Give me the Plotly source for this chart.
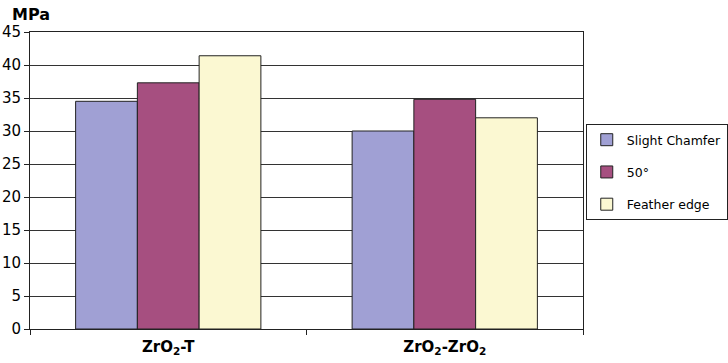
import plotly.graph_objects as go

# categories and series
categories = ["ZrO<sub>2</sub>-T", "ZrO<sub>2</sub>-ZrO<sub>2</sub>"]
slight_chamfer = [34.5, 30.0]
deg50 = [37.3, 34.8]
feather_edge = [41.4, 32.0]

series = [
    ("Slight Chamfer", slight_chamfer, "#A0A0D4"),
    ("50°", deg50, "#A64F80"),
    ("Feather edge", feather_edge, "#FBF8D2"),
]

fig = go.Figure()
for i, (name, vals, color) in enumerate(series):
    fig.add_trace(go.Bar(
        x=categories, y=vals, name=name,
        marker=dict(color=color, line=dict(color="#222", width=1)),
        legendgroup=f"g{i}",
    ))

fig.update_layout(
    width=728, height=363,
    margin=dict(l=30, r=145, t=32, b=34, autoexpand=False),
    paper_bgcolor="white", plot_bgcolor="white",
    font=dict(family="DejaVu Sans", size=14, color="black"),
    barmode="group", bargap=0.33, bargroupgap=0,
    showlegend=True,
    legend=dict(
        x=1.005, y=0.69, xanchor="left", yanchor="top",
        bordercolor="#222", borderwidth=1,
        font=dict(size=12.5), traceorder="grouped", tracegroupgap=13,
        itemwidth=30,
    ),
    annotations=[dict(
        text="<b>MPa</b>", xref="paper", yref="paper",
        x=-0.036, y=1.02, xanchor="left", yanchor="bottom",
        showarrow=False, font=dict(size=16),
    )],
)

fig.update_yaxes(
    range=[0, 45], dtick=5, showgrid=True, gridcolor="#333", gridwidth=1,
    showline=True, linecolor="#222", linewidth=1, mirror=True,
    ticks="outside", ticklen=5, tickcolor="#222",
    zeroline=False, tickfont=dict(size=15),
)
fig.update_xaxes(
    showline=True, linecolor="#222", linewidth=1, mirror=True,
    ticks="outside", ticklen=5, tickcolor="#222", tickson="boundaries",
    tickfont=dict(size=15), ticklabelstandoff=4,
    tickvals=categories,
    ticktext=["<b>" + c + "</b>" for c in categories],
)

# drop the default page margin so the figure sits at the window's corner
fig.write_html("out.html", config={"displayModeBar": False},
               post_script="document.body.style.margin='0';")
